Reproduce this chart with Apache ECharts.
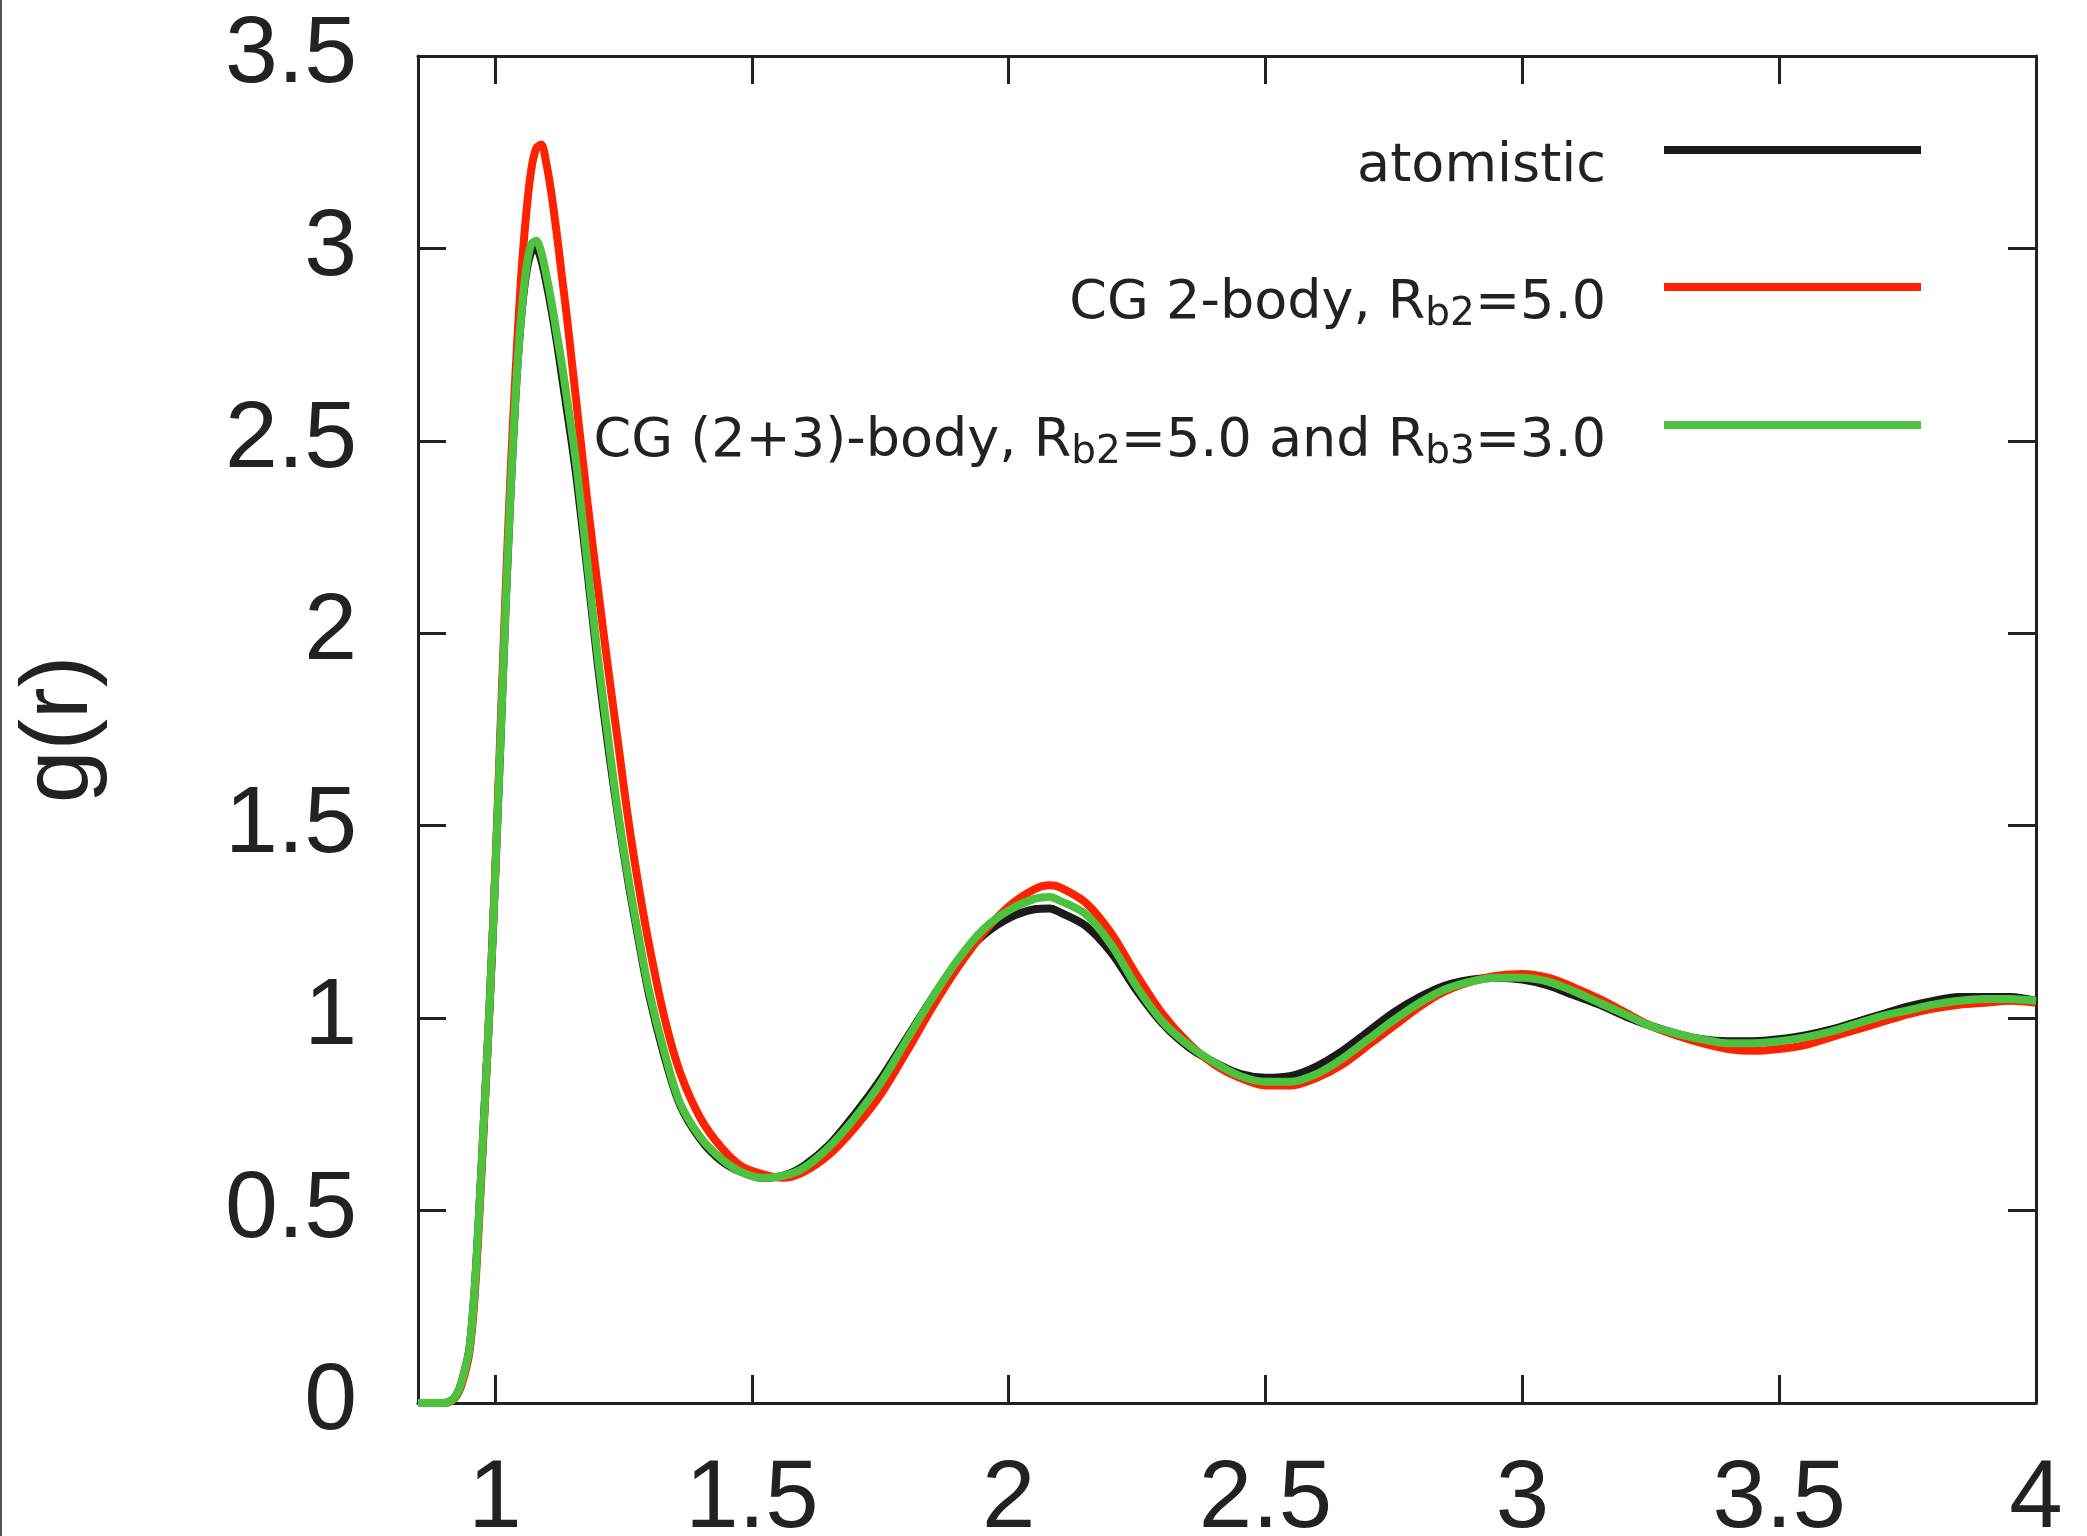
<!DOCTYPE html>
<html>
<head>
<meta charset="utf-8">
<script src="https://cdn.jsdelivr.net/npm/echarts@6/dist/echarts.min.js"></script>
<style>
html,body{margin:0;padding:0;background:#fff;}
#chart{width:2087px;height:1536px;}
</style>
</head>
<body>
<div id="chart"></div>
<script>
// r values (x axis)
const rValues = [0.85,0.88,0.90,0.91,0.92,0.93,0.94,0.95,0.96,0.97,0.98,0.99,1.00,1.01,1.02,1.03,1.04,1.05,1.06,1.07,1.08,1.09,1.10,1.11,1.12,1.13,1.14,1.15,1.16,
1.18,1.20,1.22,1.24,1.26,1.28,1.30,1.33,1.36,1.40,1.44,1.48,1.52,1.56,1.60,
1.65,1.70,1.75,1.80,1.85,1.90,1.95,2.00,2.05,2.08,
2.10,2.15,2.20,2.25,2.30,2.35,2.40,2.45,2.50,2.55,2.60,2.65,2.70,2.75,2.80,2.85,2.90,2.95,
3.00,3.05,3.10,3.15,3.20,3.25,3.30,3.35,3.40,3.45,3.50,3.55,3.60,3.65,3.70,3.75,3.80,3.85,3.90,3.95,4.00];

// g(r) atomistic
const atomistic = [0,0,0,0.003,0.012,0.035,0.08,0.14,0.29,0.52,0.78,1.05,1.36,1.70,2.05,2.36,2.62,2.81,2.93,2.99,3.00,2.97,2.91,2.84,2.76,2.67,2.58,2.49,2.39,
2.16,1.92,1.71,1.52,1.35,1.20,1.06,0.90,0.775,0.685,0.63,0.60,0.585,0.59,0.615,
0.67,0.75,0.84,0.945,1.05,1.145,1.215,1.26,1.283,1.285,
1.275,1.24,1.17,1.07,0.985,0.925,0.885,0.855,0.845,0.85,0.875,0.915,0.965,1.015,1.055,1.085,1.10,1.105,
1.10,1.085,1.06,1.035,1.005,0.98,0.96,0.945,0.94,0.94,0.945,0.955,0.97,0.99,1.01,1.03,1.045,1.055,1.055,1.055,1.045];

// g(r) CG 2-body
const cg2body = [0,0,0,0.002,0.01,0.03,0.07,0.13,0.27,0.50,0.77,1.05,1.37,1.73,2.09,2.41,2.68,2.91,3.08,3.20,3.26,3.27,3.22,3.14,3.04,2.93,2.82,2.70,2.58,
2.34,2.12,1.91,1.71,1.51,1.34,1.19,1.00,0.86,0.74,0.665,0.615,0.595,0.585,0.60,
0.645,0.715,0.80,0.91,1.025,1.13,1.22,1.29,1.335,1.345,
1.34,1.30,1.22,1.11,1.01,0.935,0.88,0.845,0.825,0.825,0.845,0.88,0.93,0.98,1.03,1.07,1.095,1.11,
1.115,1.105,1.08,1.05,1.015,0.98,0.955,0.935,0.92,0.915,0.92,0.93,0.95,0.97,0.99,1.01,1.025,1.035,1.04,1.045,1.04];

// g(r) CG (2+3)-body
const cg23body = [0,0,0,0.003,0.012,0.035,0.08,0.14,0.29,0.52,0.78,1.05,1.36,1.70,2.05,2.36,2.62,2.81,2.94,3.01,3.02,2.99,2.93,2.86,2.78,2.70,2.61,2.52,2.42,
2.18,1.94,1.73,1.53,1.36,1.21,1.07,0.91,0.78,0.69,0.635,0.60,0.585,0.59,0.61,
0.665,0.74,0.83,0.94,1.05,1.15,1.23,1.28,1.31,1.315,
1.305,1.27,1.19,1.08,0.99,0.93,0.885,0.85,0.835,0.835,0.855,0.895,0.945,0.995,1.04,1.075,1.095,1.105,
1.105,1.095,1.07,1.04,1.01,0.98,0.96,0.945,0.935,0.935,0.94,0.95,0.965,0.985,1.005,1.02,1.035,1.045,1.05,1.05,1.045];

const xTicks = [1, 1.5, 2, 2.5, 3, 3.5, 4];
const seriesNames = ['atomistic', 'CG 2-body, Rb2=5.0', 'CG (2+3)-body, Rb2=5.0 and Rb3=3.0'];
const legendRich = {
  'atomistic': '{n|atomistic}',
  'CG 2-body, Rb2=5.0': '{n|CG 2-body, R}{s|b2}{n|=5.0}',
  'CG (2+3)-body, Rb2=5.0 and Rb3=3.0': '{n|CG (2+3)-body, R}{s|b2}{n|=5.0 and R}{s|b3}{n|=3.0}'
};
const colors = ['#1c1a1b', '#ff2200', '#4cc23e'];

function zip(xs, ys) { return xs.map((x, i) => [x, ys[i]]); }

const axisColor = '#222';
const tickFont = 'Liberation Sans, Arial, Helvetica, sans-serif';

function legendFor(i, top) {
  return {
    show: true,
    data: [seriesNames[i]],
    orient: 'vertical',
    right: 166,
    top: top,
    padding: 0,
    align: 'right',
    itemWidth: 257,
    itemHeight: 8,
    icon: 'rect',
    selectedMode: false,
    formatter: name => legendRich[name],
    textStyle: {
      padding: [34, 53, 0, 0],
      rich: {
        n: { fontFamily: 'DejaVu Sans', fontSize: 54, lineHeight: 60, color: '#222', verticalAlign: 'middle' },
        s: { fontFamily: 'DejaVu Sans', fontSize: 39, lineHeight: 10, color: '#222', verticalAlign: 'bottom' }
      }
    }
  };
}

const chart = echarts.init(document.getElementById('chart'), null, { renderer: 'canvas' });
const baseX = {
  type: 'value', min: 0.85, max: 4,
  axisLine: { show: true, onZero: false, lineStyle: { color: axisColor, width: 3 } },
  axisTick: { show: true, inside: true, length: 28, customValues: xTicks, lineStyle: { color: axisColor, width: 3 } },
  splitLine: { show: false }
};
const baseY = {
  type: 'value', min: 0, max: 3.5, interval: 0.5,
  axisLine: { show: true, onZero: false, lineStyle: { color: axisColor, width: 3 } },
  axisTick: { show: true, inside: true, length: 28, lineStyle: { color: axisColor, width: 3 } },
  splitLine: { show: false }
};

chart.setOption({
  animation: false,
  backgroundColor: '#fff',
  grid: { left: 418, right: 51, top: 56, bottom: 133, containLabel: false, outerBoundsMode: 'none' },
  legend: [legendFor(0, 140), legendFor(1, 277), legendFor(2, 415)],
  graphic: [{ type: 'rect', left: 0, top: 0, shape: { width: 2, height: 1536 }, style: { fill: '#555' } }],
  xAxis: [
    Object.assign({}, baseX, {
      position: 'bottom',
      axisLabel: { customValues: xTicks, margin: 50, fontSize: 96, fontFamily: tickFont, color: axisColor, formatter: v => String(v) }
    }),
    Object.assign({}, baseX, { position: 'top', axisLabel: { show: false } })
  ],
  yAxis: [
    Object.assign({}, baseY, {
      position: 'left',
      name: 'g(r)', nameLocation: 'middle', nameGap: 310,
      nameTextStyle: { fontSize: 95, fontFamily: tickFont, color: axisColor },
      axisLabel: { margin: 61, fontSize: 95, fontFamily: tickFont, color: axisColor }
    }),
    Object.assign({}, baseY, { position: 'right', axisLabel: { show: false } })
  ],
  series: seriesNames.map((name, i) => ({
    name: name,
    type: 'line',
    xAxisIndex: 0, yAxisIndex: 0,
    data: zip(rValues, [atomistic, cg2body, cg23body][i]),
    showSymbol: false,
    smooth: 0.3,
    color: colors[i],
    lineStyle: { width: 8, color: colors[i] },
    emphasis: { disabled: true },
    z: 2 + i
  }))
});
</script>
</body>
</html>
